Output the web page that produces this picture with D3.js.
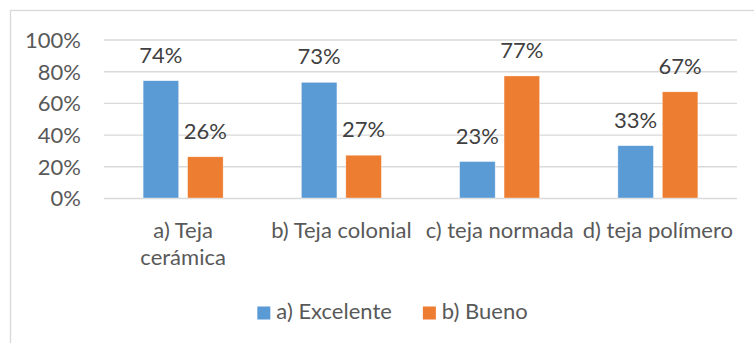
<!DOCTYPE html>
<html>
<head>
<meta charset="utf-8">
<script src="https://cdn.jsdelivr.net/npm/d3@7"></script>
<style>
  html, body { margin: 0; padding: 0; background: #fff; }
  svg { display: block; font-family: Lato, "Open Sans", sans-serif; }
</style>
</head>
<body>
<svg id="chart" width="754" height="343"></svg>
<script>
// Category names ("\n" marks where the axis label breaks)
const categories = ["a) Teja\ncerámica", "b) Teja colonial", "c) teja normada", "d) teja polímero"];
// Series
const seriesNames = ["a) Excelente", "b) Bueno"];
const excelente = [0.74, 0.73, 0.23, 0.33];
const bueno = [0.26, 0.27, 0.77, 0.67];
const seriesColors = ["#5B9BD5", "#ED7D31"];
// Value axis ticks
const yTicks = [0, 0.2, 0.4, 0.6, 0.8, 1.0];

const seriesValues = [excelente, bueno];
const rows = categories.map((c, i) => ({
  cat: c,
  vals: seriesNames.map((s, j) => ({ series: s, value: seriesValues[j][i], color: seriesColors[j] }))
}));

const svg = d3.select("#chart");
const W = 754, H = 343;
const plot = { left: 104, right: 737, top: 39.5, bottom: 198 };
const pct = d3.format(".0%");
const FS = 22;

// Chart frame
svg.append("rect")
  .attr("x", 10.5).attr("y", 10.5)
  .attr("width", W).attr("height", H)
  .attr("fill", "#fff").attr("stroke", "#D9D9D9").attr("stroke-width", 1.3);

const x0 = d3.scaleBand().domain(categories).range([plot.left, plot.right]).paddingInner(0).paddingOuter(0);
const groupW = 80;
const x1 = d3.scaleBand().domain(seriesNames).range([0, groupW]).paddingInner(0.2);
const y = d3.scaleLinear().domain([0, 1]).range([plot.bottom, plot.top]);

// Gridlines + tick labels
const yAxis = d3.axisLeft(y).tickValues(yTicks).tickFormat(pct)
  .tickSize(-(plot.right - plot.left)).tickPadding(23);
const gy = svg.append("g").attr("transform", `translate(${plot.left},0)`).call(yAxis);
gy.select(".domain").remove();
gy.selectAll(".tick line").attr("stroke", "#D9D9D9").attr("stroke-width", 1.4);
gy.selectAll(".tick text")
  .attr("fill", "#595959").attr("font-size", FS).attr("font-family", "Lato, sans-serif")
  .attr("dy", "0.36em");

// Bars
const groups = svg.append("g").selectAll("g").data(rows).join("g")
  .attr("transform", d => `translate(${x0(d.cat) + (x0.bandwidth() - groupW) / 2},0)`);

groups.selectAll("rect").data(d => d.vals).join("rect")
  .attr("x", d => x1(d.series))
  .attr("y", d => y(d.value))
  .attr("width", x1.bandwidth())
  .attr("height", d => y(0) - y(d.value))
  .attr("fill", d => d.color)
  .attr("stroke", "#fff").attr("stroke-width", 0.6).attr("stroke-opacity", 0.6);

// Value labels
groups.selectAll("text.val").data(d => d.vals).join("text")
  .attr("class", "val")
  .attr("x", d => x1(d.series) + x1.bandwidth() / 2)
  .attr("y", d => y(d.value) - 18)
  .attr("text-anchor", "middle")
  .attr("fill", "#404040").attr("font-size", FS)
  .text(d => pct(d.value));

// Category labels
const catG = svg.append("g");
categories.forEach(c => {
  const lines = c.split("\n");
  const t = catG.append("text")
    .attr("text-anchor", "middle")
    .attr("fill", "#595959").attr("font-size", FS);
  lines.forEach((ln, k) => {
    t.append("tspan")
      .attr("x", x0(c) + x0.bandwidth() / 2)
      .attr("y", 238 + k * 27)
      .text(ln);
  });
});

// Legend
const legend = svg.append("g");
let cursor = 0;
seriesNames.forEach((s, j) => {
  const item = legend.append("g").attr("transform", `translate(${cursor},0)`);
  item.append("rect").attr("x", 0).attr("y", -12.5).attr("width", 13).attr("height", 13)
    .attr("fill", seriesColors[j]);
  const t = item.append("text").attr("x", 19).attr("y", 0)
    .attr("fill", "#595959").attr("font-size", FS).text(s);
  cursor += 19 + t.node().getComputedTextLength() + 31;
});
const legendW = cursor - 31;
legend.attr("transform", `translate(${392.5 - legendW / 2},319)`);
</script>
</body>
</html>
